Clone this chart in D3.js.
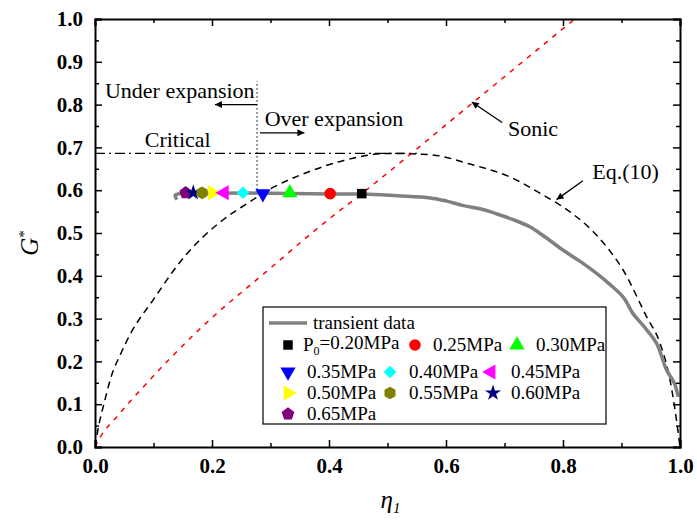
<!DOCTYPE html>
<html>
<head>
<meta charset="utf-8">
<script src="https://cdn.jsdelivr.net/npm/d3@7"></script>
<style>
body { margin: 0; background: #fff; }
text { font-family: "Liberation Serif", "Times New Roman", serif; fill: #000; }
.tick text { font-family: "Liberation Serif", "Times New Roman", serif; font-weight: bold; font-size: 21px; }
.axis path, .axis line { stroke: #000; }
.axis path { stroke-width: 2; }
.axis line { stroke-width: 1.5; }
.note { font-size: 22px; }
.legend_label { font-size: 19px; }
</style>
</head>
<body>
<script>
var margin = {top: 19, bottom: 74, left: 95, right: 17};
var width = 697 - margin.left - margin.right;
var height = 521 - margin.top - margin.bottom;

// transient data (grey line)
var transientEta = [0.140, 0.137, 0.145, 0.20, 0.30, 0.402, 0.459, 0.516, 0.573, 0.600, 0.630, 0.660, 0.686, 0.715, 0.744, 0.770, 0.801, 0.830, 0.858, 0.880, 0.903, 0.920, 0.940, 0.960, 0.977, 0.990, 0.997];
var transientG   = [0.578, 0.588, 0.592, 0.593, 0.593, 0.591, 0.591, 0.587, 0.582, 0.575, 0.564, 0.556, 0.545, 0.531, 0.514, 0.490, 0.459, 0.433, 0.405, 0.380, 0.350, 0.311, 0.279, 0.242, 0.180, 0.150, 0.117];

// Eq.(10) curve (black dashed)
var eqEta = [0, 0.005, 0.017, 0.028, 0.043, 0.06, 0.10, 0.15, 0.219, 0.259, 0.305, 0.356, 0.424, 0.504, 0.573, 0.641, 0.709, 0.772, 0.801, 0.875, 0.903, 0.943, 0.966, 0.983, 0.994, 1.0];
var eqG   = [0, 0.040, 0.110, 0.166, 0.215, 0.263, 0.345, 0.440, 0.531, 0.568, 0.607, 0.638, 0.669, 0.686, 0.683, 0.661, 0.631, 0.584, 0.560, 0.467, 0.413, 0.304, 0.242, 0.156, 0.063, 0];

// sonic line (red dashed)
var sonicEta = [0, 0.009, 0.04, 0.083, 0.177, 0.30, 0.393, 0.456, 0.641, 0.82];
var sonicG   = [0, 0.023, 0.075, 0.141, 0.273, 0.418, 0.525, 0.592, 0.799, 1.0];

// critical value and expansion boundary
var criticalG = 0.686;
var criticalEnd = 0.55;
var boundaryEta = 0.277;
var boundaryG = [0.592, 0.855];

// inlet pressure points
var pressures = ["0.20", "0.25", "0.30", "0.35", "0.40", "0.45", "0.50", "0.55", "0.60", "0.65"];
var pointEta = [0.456, 0.402, 0.333, 0.287, 0.253, 0.221, 0.201, 0.183, 0.168, 0.155];
var pointG = [0.592, 0.592, 0.594, 0.592, 0.594, 0.594, 0.594, 0.594, 0.594, 0.594];
var colors = ["#000000", "#ff0000", "#00ff00", "#0000ff", "#00ffff", "#ff00ff", "#ffff00", "#808000", "#000080", "#800080"];

// tick values
var xMajor = [0, 0.2, 0.4, 0.6, 0.8, 1.0];
var xMinor = [0.1, 0.3, 0.5, 0.7, 0.9];
var yMajor = [0, 0.1, 0.2, 0.3, 0.4, 0.5, 0.6, 0.7, 0.8, 0.9, 1.0];
var yMinor = [0.05, 0.15, 0.25, 0.35, 0.45, 0.55, 0.65, 0.75, 0.85, 0.95];

var svg = d3.select("body")
            .append("svg")
            .attr("width", width + margin.left + margin.right)
            .attr("height", height + margin.top + margin.bottom);

var defs = svg.append("defs");
defs.append("marker")
    .attr("id", "arrow")
    .attr("viewBox", "0 -5 10 10")
    .attr("refX", 10)
    .attr("refY", 0)
    .attr("markerWidth", 12)
    .attr("markerHeight", 7)
    .attr("markerUnits", "userSpaceOnUse")
    .attr("orient", "auto")
  .append("path")
    .attr("d", "M0,-5L10,0L0,5Z")
    .attr("fill", "#000");
defs.append("clipPath").attr("id", "plotclip")
  .append("rect").attr("width", width).attr("height", height);

var g = svg.append("g")
           .attr("transform", "translate(" + margin.left + "," + margin.top + ")");

var xScale = d3.scaleLinear().domain([0, 1]).range([0, width]);
var yScale = d3.scaleLinear().domain([0, 1]).range([height, 0]);

// polygon symbol for pentagon / hexagon
function polygon(n) {
  return {
    draw: function(ctx, size) {
      var r = Math.sqrt(size / (n / 2 * Math.sin(2 * Math.PI / n)));
      for (var i = 0; i < n; i++) {
        var a = i * 2 * Math.PI / n;
        var px = r * Math.sin(a), py = -r * Math.cos(a);
        if (i == 0) ctx.moveTo(px, py); else ctx.lineTo(px, py);
      }
      ctx.closePath();
    }
  };
}
var shapes = [
  {type: d3.symbolSquare, size: 90, rot: 0},
  {type: d3.symbolCircle, size: 105, rot: 0},
  {type: d3.symbolTriangle, size: 100, rot: 0},
  {type: d3.symbolTriangle, size: 100, rot: 180},
  {type: d3.symbolSquare, size: 80, rot: 45},
  {type: d3.symbolTriangle, size: 100, rot: -90},
  {type: d3.symbolTriangle, size: 100, rot: 90},
  {type: polygon(6), size: 105, rot: 0},
  {type: d3.symbolStar, size: 80, rot: 0},
  {type: polygon(5), size: 105, rot: 0}
];
function symbolPath(i) { return d3.symbol().type(shapes[i].type).size(shapes[i].size)(); }

var plot = g.append("g").attr("clip-path", "url(#plotclip)");

// Eq.(10)
var eqLine = d3.line().curve(d3.curveMonotoneX)
  .x(function(d) { return xScale(eqEta[d]); })
  .y(function(d) { return yScale(eqG[d]); });
plot.append("path")
    .attr("d", eqLine(d3.range(eqEta.length)))
    .attr("fill", "none").attr("stroke", "#000")
    .attr("stroke-width", 1.5).attr("stroke-dasharray", "7,5");

// sonic
var sonicLine = d3.line().curve(d3.curveMonotoneX)
  .x(function(d) { return xScale(sonicEta[d]); })
  .y(function(d) { return yScale(sonicG[d]); });
plot.append("path")
    .attr("d", sonicLine(d3.range(sonicEta.length)))
    .attr("fill", "none").attr("stroke", "#ff0000")
    .attr("stroke-width", 1.5).attr("stroke-dasharray", "5,6");

// critical line
plot.append("line")
    .attr("x1", xScale(0)).attr("x2", xScale(criticalEnd))
    .attr("y1", yScale(criticalG)).attr("y2", yScale(criticalG))
    .attr("stroke", "#000").attr("stroke-width", 1.3)
    .attr("stroke-dasharray", "10,4,2,4");

// boundary (dotted)
plot.append("line")
    .attr("x1", xScale(boundaryEta)).attr("x2", xScale(boundaryEta))
    .attr("y1", yScale(boundaryG[0])).attr("y2", yScale(boundaryG[1]))
    .attr("stroke", "#000").attr("stroke-width", 1)
    .attr("stroke-dasharray", "1.5,2.5");

// transient data
var transLine = d3.line().curve(d3.curveCatmullRom)
  .x(function(d) { return xScale(transientEta[d]); })
  .y(function(d) { return yScale(transientG[d]); });
plot.append("path")
    .attr("d", transLine(d3.range(transientEta.length)))
    .attr("fill", "none").attr("stroke", "#808080")
    .attr("stroke-width", 3.5).attr("stroke-linejoin", "round");

// pressure points
g.selectAll(".pt")
  .data(d3.range(pressures.length).reverse())
  .enter().append("path")
  .attr("class", "pt")
  .attr("d", function(i) { return symbolPath(i); })
  .attr("fill", function(i) { return colors[i]; })
  .attr("transform", function(i) {
    return "translate(" + xScale(pointEta[i]) + "," + yScale(pointG[i]) + ") rotate(" + shapes[i].rot + ")";
  });

// axes
var xAxisB = d3.axisBottom(xScale).tickValues(xMajor).tickSize(-7).tickPadding(11).tickFormat(d3.format(".1f"));
var xAxisT = d3.axisTop(xScale).tickValues(xMajor).tickSize(-7).tickFormat("");
var yAxisL = d3.axisLeft(yScale).tickValues(yMajor).tickSize(-7).tickPadding(12).tickFormat(d3.format(".1f"));
var yAxisR = d3.axisRight(yScale).tickValues(yMajor).tickSize(-7).tickFormat("");

g.append("g").attr("class", "axis").attr("transform", "translate(0," + height + ")").call(xAxisB);
g.append("g").attr("class", "axis").call(xAxisT);
g.append("g").attr("class", "axis").call(yAxisL);
g.append("g").attr("class", "axis").attr("transform", "translate(" + width + ",0)").call(yAxisR);

g.append("g").attr("class", "axis minor").attr("transform", "translate(0," + height + ")")
  .call(d3.axisBottom(xScale).tickValues(xMinor).tickSize(-4).tickFormat(""));
g.append("g").attr("class", "axis minor")
  .call(d3.axisTop(xScale).tickValues(xMinor).tickSize(-4).tickFormat(""));
g.append("g").attr("class", "axis minor")
  .call(d3.axisLeft(yScale).tickValues(yMinor).tickSize(-4).tickFormat(""));
g.append("g").attr("class", "axis minor").attr("transform", "translate(" + width + ",0)")
  .call(d3.axisRight(yScale).tickValues(yMinor).tickSize(-4).tickFormat(""));
g.selectAll(".minor path").remove();
g.selectAll(".axis").attr("font-family", null);
g.selectAll(".tick text").attr("fill", "#000");

// axis labels
var yLab = svg.append("text")
    .attr("transform", "translate(38," + (margin.top + height / 2 + 10) + ") rotate(-90)")
    .attr("text-anchor", "middle")
    .style("font-size", "25px");
yLab.append("tspan").style("font-style", "italic").text("G");
yLab.append("tspan").attr("dy", "-0.6em").style("font-size", "15px").text("*");

var xLab = svg.append("text")
    .attr("x", margin.left + width / 2 + 3)
    .attr("y", 508)
    .attr("text-anchor", "middle")
    .style("font-size", "25px");
xLab.append("tspan").style("font-style", "italic").text("η");
xLab.append("tspan").attr("dy", "0.35em").style("font-size", "15px").style("font-style", "italic").text("1");

// annotations
var notes = [
  {text: "Under expansion", eta: 0.017, g: 0.816},
  {text: "Over expansion", eta: 0.290, g: 0.750},
  {text: "Critical", eta: 0.085, g: 0.702},
  {text: "Sonic", eta: 0.706, g: 0.727},
  {text: "Eq.(10)", eta: 0.850, g: 0.627}
];
g.selectAll(".note")
  .data(notes).enter().append("text")
  .attr("class", "note")
  .attr("x", function(d) { return xScale(d.eta); })
  .attr("y", function(d) { return yScale(d.g); })
  .text(function(d) { return d.text; });

var arrows = [
  {from: [0.277, 0.800], to: [0.205, 0.800]},
  {from: [0.282, 0.734], to: [0.358, 0.734]},
  {from: [0.696, 0.758], to: [0.644, 0.806]},
  {from: [0.834, 0.622], to: [0.789, 0.578]}
];
g.selectAll(".arr")
  .data(arrows).enter().append("line")
  .attr("x1", function(d) { return xScale(d.from[0]); })
  .attr("y1", function(d) { return yScale(d.from[1]); })
  .attr("x2", function(d) { return xScale(d.to[0]); })
  .attr("y2", function(d) { return yScale(d.to[1]); })
  .attr("stroke", "#000").attr("stroke-width", 1.3)
  .attr("marker-end", "url(#arrow)");

// legend
var legend = svg.append("g");
legend.append("rect")
  .attr("x", 263).attr("y", 307).attr("width", 343).attr("height", 117)
  .attr("fill", "#fff").attr("stroke", "#000").attr("stroke-width", 1.2);
legend.append("line")
  .attr("x1", 269).attr("x2", 307).attr("y1", 323).attr("y2", 323)
  .attr("stroke", "#808080").attr("stroke-width", 3.5);
legend.append("text").attr("class", "legend_label")
  .attr("x", 313).attr("y", 329).text("transient data");

var legX = [288, 415, 517, 288, 390, 491, 288, 390, 493, 288];
var legY = [345, 345, 345, 372, 372, 372, 393, 393, 393, 414];
var legTx = [303, 433, 536, 307, 409, 511, 307, 409, 511, 307];

legend.selectAll(".lm")
  .data(d3.range(pressures.length)).enter().append("path")
  .attr("d", function(i) { return symbolPath(i); })
  .attr("fill", function(i) { return colors[i]; })
  .attr("transform", function(i) { return "translate(" + legX[i] + "," + legY[i] + ") rotate(" + shapes[i].rot + ")"; });

legend.selectAll(".lt")
  .data(d3.range(pressures.length)).enter().append("text")
  .attr("class", "legend_label")
  .attr("x", function(i) { return legTx[i]; })
  .attr("y", function(i) { return legY[i] + 6; })
  .each(function(i) {
    var t = d3.select(this);
    if (i == 0) {
      t.append("tspan").text("P");
      t.append("tspan").attr("dy", "0.3em").style("font-size", "12px").text("0");
      t.append("tspan").attr("dy", "-0.3em").text("=" + pressures[i] + "MPa");
    } else {
      t.text(pressures[i] + "MPa");
    }
  });
</script>
</body>
</html>
